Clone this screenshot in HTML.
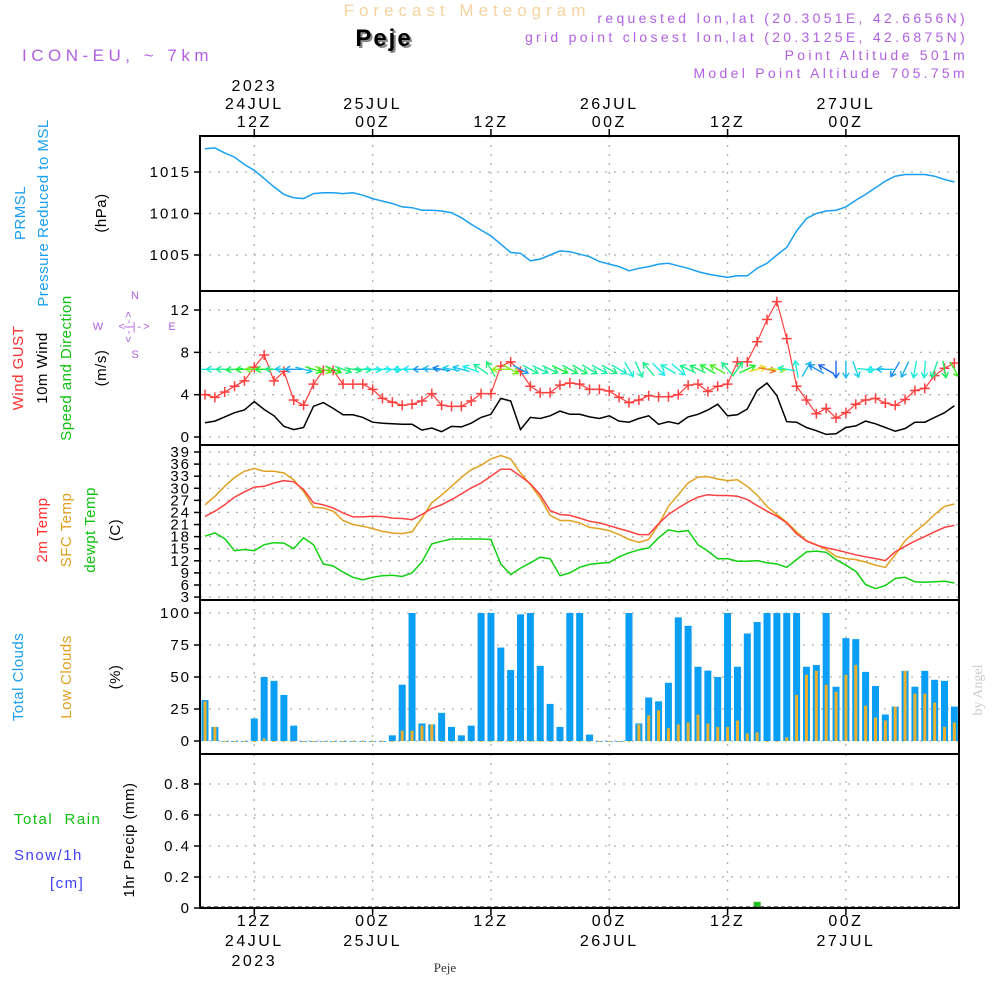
<!DOCTYPE html>
<html><head><meta charset="utf-8"><style>
html,body{margin:0;padding:0;background:#fff;}
svg{display:block;font-family:"Liberation Sans",sans-serif;}
</style></head><body>
<svg id="chart" width="1000" height="1000" viewBox="0 0 1000 1000" xmlns="http://www.w3.org/2000/svg">
<rect x="0" y="0" width="1000" height="1000" fill="#fff"/>
<defs>
<clipPath id="c1"><rect x="200" y="136" width="759" height="155"/></clipPath>
<clipPath id="c2"><rect x="200" y="291" width="759" height="154"/></clipPath>
<clipPath id="c3"><rect x="200" y="445" width="759" height="155"/></clipPath>
<clipPath id="c4"><rect x="200" y="600" width="759" height="154"/></clipPath>
<clipPath id="c5"><rect x="200" y="754" width="759" height="154"/></clipPath>
</defs>
<text x="467" y="16" text-anchor="middle" font-size="17" fill="#f5d3a0" letter-spacing="5">Forecast Meteogram</text>
<text x="386" y="48" text-anchor="middle" font-size="24" font-weight="bold" fill="#888" letter-spacing="2">Peje</text>
<text x="384" y="46" text-anchor="middle" font-size="24" font-weight="bold" fill="#000" letter-spacing="2">Peje</text>
<text x="22" y="61" font-size="17" fill="#b060e0" letter-spacing="4.5">ICON-EU, ~ 7km</text>
<g font-size="14" fill="#b060e0" text-anchor="end" letter-spacing="3.3">
<text x="968" y="23">requested lon,lat (20.3051E, 42.6656N)</text>
<text x="968" y="42">grid point closest lon,lat (20.3125E, 42.6875N)</text>
<text x="968" y="60">Point Altitude 501m</text>
<text x="968" y="78">Model Point Altitude 705.75m</text>
</g>
<g id="grid"></g>
<g id="marks"></g>
<g id="axes"></g>
<g font-size="15" letter-spacing="0.5">
<text transform="translate(25,213) rotate(-90)" text-anchor="middle" fill="#1a9ff0">PRMSL</text>
<text transform="translate(48,213) rotate(-90)" text-anchor="middle" fill="#1a9ff0">Pressure Reduced to MSL</text>
<text transform="translate(106,213) rotate(-90)" text-anchor="middle" fill="#000">(hPa)</text>
<text transform="translate(23,368) rotate(-90)" text-anchor="middle" fill="#ff3030">Wind GUST</text>
<text transform="translate(47,368) rotate(-90)" text-anchor="middle" fill="#000">10m Wind</text>
<text transform="translate(71,368) rotate(-90)" text-anchor="middle" fill="#10c010">Speed and Direction</text>
<text transform="translate(106,368) rotate(-90)" text-anchor="middle" fill="#000">(m/s)</text>
<text transform="translate(47,530) rotate(-90)" text-anchor="middle" fill="#ff3030">2m Temp</text>
<text transform="translate(71,530) rotate(-90)" text-anchor="middle" fill="#e0a020">SFC Temp</text>
<text transform="translate(95,530) rotate(-90)" text-anchor="middle" fill="#10c010">dewpt Temp</text>
<text transform="translate(120,530) rotate(-90)" text-anchor="middle" fill="#000">(C)</text>
<text transform="translate(23,677) rotate(-90)" text-anchor="middle" fill="#1a9ff0">Total Clouds</text>
<text transform="translate(71,677) rotate(-90)" text-anchor="middle" fill="#e0a020">Low Clouds</text>
<text transform="translate(120,677) rotate(-90)" text-anchor="middle" fill="#000">(%)</text>
<text x="14" y="824" fill="#10c010" letter-spacing="1.5">Total&#160;&#160;Rain</text>
<text x="14" y="860" fill="#4040ff" letter-spacing="1.5">Snow/1h</text>
<text x="50" y="888" fill="#4040ff" letter-spacing="1.5">[cm]</text>
<text transform="translate(134,840) rotate(-90)" text-anchor="middle" fill="#000">1hr Precip (mm)</text>
</g>
<g font-size="11" fill="#b060e0" text-anchor="middle">
<text x="135" y="299">N</text>
<text x="98" y="330">W</text>
<text x="172" y="330">E</text>
<text x="135" y="330" letter-spacing="2">&lt;-|-&gt;</text>
<text transform="translate(132,326) rotate(-90)" letter-spacing="2">&lt;-|-&gt;</text>
<text x="135" y="358">S</text>
</g>
<text transform="translate(982,690) rotate(-90)" text-anchor="middle" font-size="14" fill="#ccc" font-family="Liberation Serif, serif">by Angel</text>
<text x="445" y="972" text-anchor="middle" font-size="13" fill="#333" font-family="Liberation Serif, serif">Peje</text>
</svg>
<script>
// ---- data (hourly from 07Z 24JUL) ----
const pressure = [1017.8,1017.9,1017.3,1016.8,1015.9,1015.2,1014.2,1013.2,1012.3,1011.9,1011.8,1012.4,1012.5,1012.5,1012.4,1012.5,1012.2,1011.8,1011.5,1011.2,1010.8,1010.7,1010.4,1010.4,1010.3,1010.1,1009.5,1008.7,1008.0,1007.3,1006.3,1005.3,1005.2,1004.3,1004.5,1005.0,1005.5,1005.4,1005.1,1004.8,1004.2,1003.9,1003.6,1003.1,1003.4,1003.6,1003.9,1004.0,1003.7,1003.4,1003.0,1002.7,1002.5,1002.3,1002.5,1002.5,1003.4,1004.0,1005.0,1005.9,1007.9,1009.4,1010.0,1010.3,1010.4,1010.8,1011.6,1012.3,1013.1,1013.9,1014.5,1014.7,1014.7,1014.7,1014.5,1014.1,1013.8];
const gust = [4.0,3.75,4.25,4.8,5.3,6.6,7.75,5.3,6.2,3.5,3.0,5.0,6.3,6.3,5.0,5.0,5.0,4.5,3.65,3.3,3.0,3.1,3.4,4.1,3.0,2.9,2.9,3.4,4.1,4.1,6.7,7.1,6.2,4.8,4.2,4.2,4.9,5.1,5.0,4.5,4.5,4.35,3.75,3.25,3.5,3.9,3.8,3.8,4.0,4.9,5.0,4.3,4.8,5.0,7.1,7.1,9.0,11.1,12.8,9.3,4.8,3.5,2.2,2.7,1.8,2.3,3.1,3.5,3.65,3.2,3.0,3.55,4.4,4.6,5.8,6.5,7.0];
const wind = [1.35,1.5,1.9,2.3,2.55,3.35,2.6,2.0,1.0,0.7,0.9,2.9,3.25,2.7,2.1,2.1,1.85,1.4,1.3,1.25,1.2,1.2,0.65,0.85,0.5,1.0,0.95,1.3,1.85,2.15,3.65,3.4,0.7,1.85,1.75,2.0,2.45,2.15,2.15,1.9,1.75,2.0,1.5,1.4,1.75,2.0,1.2,1.45,1.25,1.9,2.15,2.55,3.1,2.0,2.1,2.65,4.4,5.1,3.9,1.45,1.4,0.9,0.6,0.25,0.3,0.9,1.05,1.5,1.25,0.9,0.55,0.8,1.4,1.4,1.85,2.3,2.95];
// direction the arrow points to, screen degrees (0=east, 90=down, 180=west, -90=up)
const windDir = [180,180,180,175,178,180,178,180,182,180,15,18,20,22,20,10,5,5,3,5,180,182,180,185,190,-170,-165,-160,-145,-120,180,30,28,28,25,25,25,28,30,30,28,28,30,60,65,-130,45,-150,40,-155,-155,-150,-150,-130,-55,-25,-15,12,5,-170,-100,-60,-150,-150,90,90,70,5,175,180,120,115,100,95,110,80,60];
const temp2m = [23.0,24.3,25.9,27.8,29.1,30.3,30.5,31.3,31.9,31.6,29.7,26.4,25.9,25.1,23.9,22.9,22.9,23.05,23.0,22.6,22.5,22.2,23.5,25.0,25.9,27.2,28.6,30.1,31.3,33.0,34.7,34.7,33.0,31.1,28.4,24.45,23.5,23.3,22.6,21.8,21.4,20.7,20.0,19.3,18.5,18.5,21.2,23.5,25.1,26.6,27.8,28.4,28.2,28.2,28.0,27.2,25.7,24.3,23.05,21.4,18.7,16.9,15.9,15.2,14.7,14.1,13.5,13.0,12.55,12.05,14.2,15.6,16.9,18.0,19.2,20.3,20.8];
const tempSfc = [25.9,28.0,30.5,32.7,34.2,34.9,34.2,34.2,33.8,32.1,29.2,25.3,25.1,24.3,22.0,21.0,20.6,20.0,19.3,18.9,18.75,19.2,22.6,26.4,28.3,30.5,32.7,34.6,35.7,37.3,38.1,37.3,33.8,30.9,27.6,23.3,22.0,22.0,21.4,20.3,20.0,19.5,18.5,17.3,16.6,17.3,21.0,25.5,28.4,31.3,32.8,32.9,32.3,31.9,32.1,30.5,28.3,25.5,23.5,21.6,19.2,17.0,16.0,14.8,13.1,12.55,12.3,11.7,10.9,10.4,13.5,17.0,19.2,21.15,23.5,25.5,26.1];
const dewpt = [18.1,18.9,17.5,14.5,14.8,14.5,16.0,16.5,16.4,15.0,17.7,16.0,11.2,10.7,9.2,7.9,7.3,7.9,8.3,8.4,8.1,9.0,11.7,16.2,16.85,17.4,17.4,17.4,17.4,17.3,11.2,8.6,10.2,11.5,12.9,12.5,8.3,9.0,10.4,11.1,11.4,11.6,13.0,14.0,14.7,15.2,17.7,19.7,19.2,19.5,16.0,14.4,12.5,12.55,11.9,11.9,12.05,11.5,11.2,10.4,12.3,14.2,14.4,14.1,12.3,10.9,9.4,6.1,5.1,5.85,7.6,7.9,6.8,6.7,6.8,6.95,6.5];
const totalCloud = [32,11,0,0,0,17.6,50,47,36,12,0,0,0,0,0,0,0,0,0,4.4,44,100,13.7,13,22,11,4.4,12,100,100,73,55.5,99,100,58.7,29,11,100,100,5,0,0,0,100,13.7,34,31,45.5,96.6,90,58,55,50,100,58,84,93,100,100,100,100,58,59.4,100,42.4,80.4,79.6,54,43,20.7,26.9,54.8,42.4,54.8,47.8,47,26.9];
const lowCloud = [31,11,0,0,0,0,2,0,0,0,0,0,0,0,0,0,0,0,0,0,8,8,12,13,0,0,0,0,0,0,0,0,0,0,0,0,0,0,0,0,0,0,0,0,13,20,24,10,13,14.5,20.7,13.7,11,11,16,6,6.7,0,0,2.8,36,51.7,54.8,44,38.5,51.7,59.4,27.6,18.3,16,26.9,54.8,37,37,30,11,14.5];
const precip = [0,0,0,0,0,0,0,0,0.005,0,0,0,0,0,0,0,0,0,0,0,0,0,0,0,0,0,0,0,0,0,0,0,0,0,0,0,0,0,0,0,0,0,0,0,0,0,0,0,0,0,0,0,0,0,0,0,0.04,0.005,0,0,0,0,0.004,0,0,0,0,0,0,0,0,0,0,0,0,0,0];
const pressureTicks = [1015,1010,1005];
const windTicks = [0,4,8,12];
const tempTicks = [3,6,9,12,15,18,21,24,27,30,33,36,39];
const cloudTicks = [0,25,50,75,100];
const precipTicks = [0,0.2,0.4,0.6,0.8];
const timeHours = [5,17,29,41,53,65];
const timeTop = [["2023","24JUL","12Z"],["","25JUL","00Z"],["","","12Z"],["","26JUL","00Z"],["","","12Z"],["","27JUL","00Z"]];
const timeBottom = [["12Z","24JUL","2023"],["00Z","25JUL",""],["12Z","",""],["00Z","26JUL",""],["12Z","",""],["00Z","27JUL",""]];

// ---- scales ----
const X0=200, X1=959;
const xh = i => 205 + 9.86*i;
const yP = p => 172 + (1015-p)*8.3;
const yW = v => 437 - v*10.58;
const yT = t => 452 + (39-t)*4.03;
const yC = c => 741 - c*1.28;
const yR = r => 908 - r*155;
const NS="http://www.w3.org/2000/svg";
function mk(tag, attrs, parent){const e=document.createElementNS(NS,tag);for(const k in attrs)e.setAttribute(k,attrs[k]);parent.appendChild(e);return e;}
const grid=document.getElementById('grid'), marks=document.getElementById('marks'), axes=document.getElementById('axes');
const panels=[[136,291],[291,445],[445,600],[600,754],[754,908]];

panels.forEach(([a,b],pi)=>{timeHours.forEach((h,k)=>{
  const l=mk('line',{x1:xh(h),x2:xh(h),y1:a,y2:b,stroke:'#b0b0b0','stroke-width':1.3,'stroke-dasharray':'2,7'},grid);
  
  
});});
function hgrid(ticks, yf, fmt, pi){
  ticks.forEach(t=>{
    const y=yf(t);
    const l=mk('line',{x1:X0,x2:X1,y1:y,y2:y,stroke:'#b0b0b0','stroke-width':1.3,'stroke-dasharray':'2,7'},grid);
    
    
    const tk=mk('line',{x1:X0-6,x2:X0,y1:y,y2:y,stroke:'#000','stroke-width':1.5},axes);
    
    
    const tx=mk('text',{x:X0-9,y:y+5,'text-anchor':'end','font-size':15,fill:'#000','letter-spacing':2},axes);
    tx.textContent=fmt(t);
    
    
  });
}
hgrid(pressureTicks,yP,t=>String(t),0);
hgrid(windTicks,yW,t=>String(t),1);
hgrid(tempTicks,yT,t=>String(t),2);
hgrid(cloudTicks,yC,t=>String(t),3);
hgrid(precipTicks,yR,t=>t===0?'0':t.toFixed(1),4);

function line(arr, yf, color, clip, name, w){
  const pts=arr.map((v,i)=>xh(i).toFixed(1)+','+yf(v).toFixed(1)).join(' ');
  const p=mk('polyline',{points:pts,fill:'none',stroke:color,'stroke-width':w||1.5,'clip-path':'url(#'+clip+')'},marks);
  
  
}
line(pressure,yP,'#1a9ff0','c1','pressure-line');
line(wind,yW,'#000','c2','wind-speed-line');
line(gust,yW,'#ff4040','c2','wind-gust-line',1.2);
gust.forEach((v,i)=>{
  const x=xh(i), y=yW(v);
  const g=mk('path',{d:`M${x-5},${y}H${x+5}M${x},${y-5}V${y+5}`,stroke:'#ff4040','stroke-width':1.5,'clip-path':'url(#c2)'},marks);
  
  
});
windDir.forEach((d,i)=>{
  const cx=xh(i), cy=yW(6.4), L=17, r=d*Math.PI/180;
  const x1=cx-Math.cos(r)*L/2, y1=cy-Math.sin(r)*L/2, x2=cx+Math.cos(r)*L/2, y2=cy+Math.sin(r)*L/2;
  const hue=Math.max(20,Math.min(260,230-wind[i]*40));
  const col=`hsl(${hue},85%,52%)`;
  const a1=r+Math.PI*0.82, a2=r-Math.PI*0.82;
  const dstr=`M${x1},${y1}L${x2},${y2}M${x2+Math.cos(a1)*6},${y2+Math.sin(a1)*6}L${x2},${y2}L${x2+Math.cos(a2)*6},${y2+Math.sin(a2)*6}`;
  const a=mk('path',{d:dstr,stroke:col,'stroke-width':1.4,fill:'none','clip-path':'url(#c2)'},marks);
  
  
});
line(tempSfc,yT,'#e0a020','c3','sfc-temp-line');
line(temp2m,yT,'#ff4040','c3','temp-2m-line');
line(dewpt,yT,'#10d010','c3','dewpoint-line');
totalCloud.forEach((v,i)=>{
  const b=mk('rect',{x:xh(i)-3.5,y:yC(v),width:7,height:Math.max(0.8,yC(0)-yC(v)),fill:'#0a9ff5','clip-path':'url(#c4)'},marks);
  
  
});
lowCloud.forEach((v,i)=>{
  const b=mk('rect',{x:xh(i)-1.5,y:yC(v),width:3,height:Math.max(0.8,yC(0)-yC(v)),fill:'#e8b030','clip-path':'url(#c4)'},marks);
  
  
});
precip.forEach((v,i)=>{
  if(v<=0) return;
  const b=mk('rect',{x:xh(i)-3.5,y:yR(v),width:7,height:yR(0)-yR(v),fill:'#20c020','clip-path':'url(#c5)'},marks);
  
  
});
const base=mk('line',{x1:X0,x2:X1,y1:907,y2:907,stroke:'#555','stroke-width':1.5,'stroke-dasharray':'4,3'},marks);



panels.forEach(([a,b])=>{
  const r=mk('rect',{x:X0,y:a,width:X1-X0,height:b-a,fill:'none',stroke:'#000','stroke-width':2},axes);
  
  
});
timeHours.forEach((h,k)=>{
  const x=xh(h);
  [129,908].forEach(yy=>{
    const t=mk('line',{x1:x,x2:x,y1:yy,y2:yy+7,stroke:'#000','stroke-width':1.5},axes);
    
    
  });
  timeTop[k].forEach((s,j)=>{
    if(!s) return;
    const t=mk('text',{x:x,y:91+j*18,'text-anchor':'middle','font-size':16,fill:'#000','letter-spacing':2.5},axes);
    t.textContent=s;
    
    
  });
  timeBottom[k].forEach((s,j)=>{
    if(!s) return;
    const t=mk('text',{x:x,y:926+j*20,'text-anchor':'middle','font-size':16,fill:'#000','letter-spacing':2.5},axes);
    t.textContent=s;
    
    
  });
});
</script>
</body></html>
